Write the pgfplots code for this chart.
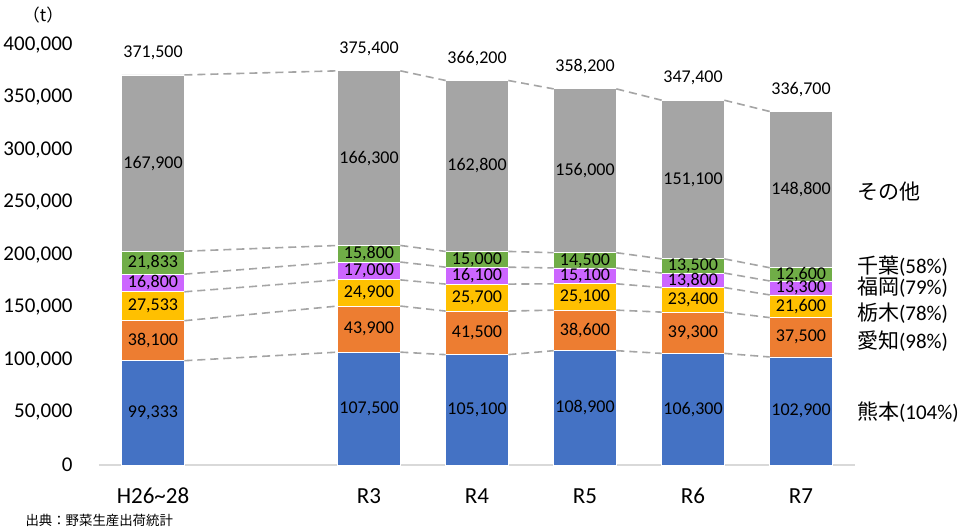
\documentclass[border=0pt]{standalone}
\usepackage{fontspec}
\setmainfont{Carlito}
\newfontfamily\cjk{Noto Sans CJK JP}
\usepackage{pgfplots}
\pgfplotsset{compat=1.18}

\definecolor{cKuma}{HTML}{4472C4}
\definecolor{cAichi}{HTML}{ED7D31}
\definecolor{cTochi}{HTML}{FFC000}
\definecolor{cFuku}{HTML}{CC66FF}
\definecolor{cChiba}{HTML}{70AD47}
\definecolor{cOther}{HTML}{A5A5A5}

\pgfplotsset{
  frame/.style={
    scale only axis, width=378pt, height=210pt,
    xmin=-0.5, xmax=6.5, ymin=0, ymax=400000,
  },
  seg/.style={draw=cOther, line width=0.8pt, dash pattern=on 4pt off 2.5pt, mark=none, forget plot},
}

\begin{document}
\begin{tikzpicture}
\useasboundingbox (-49.5pt,-30.5pt) rectangle (431pt,232.5pt);

% stacked bars
\begin{axis}[frame,
  ybar stacked, bar width=0.58,
  axis x line*=bottom, axis y line*=left,
  x axis line style={draw=black!15, line width=0.8pt},
  y axis line style={draw=none},
  major tick length=0pt,
  xtick={0,2,3,4,5,6},
  xticklabels={H26\textasciitilde28, R3, R4, R5, R6, R7},
  xticklabel style={font=\fontsize{11.5}{12}\selectfont, inner sep=0pt, anchor=center, yshift=-15.5pt},
  ytick={0,50000,...,400000},
  scaled y ticks=false,
  yticklabel style={font=\fontsize{10.5}{12}\selectfont, inner sep=0pt, anchor=east, xshift=-13pt,
    /pgf/number format/fixed, /pgf/number format/1000 sep={,},
    /pgf/number format/assume math mode=true},
  every axis plot/.append style={draw=white, line width=0.4pt},
]
\addplot[fill=cKuma]  coordinates {(0,99333) (2,107500) (3,105100) (4,108900) (5,106300) (6,102900)};
\addplot[fill=cAichi] coordinates {(0,38100) (2,43900) (3,41500) (4,38600) (5,39300) (6,37500)};
\addplot[fill=cTochi] coordinates {(0,27533) (2,24900) (3,25700) (4,25100) (5,23400) (6,21600)};
\addplot[fill=cFuku]  coordinates {(0,16800) (2,17000) (3,16100) (4,15100) (5,13800) (6,13300)};
\addplot[fill=cChiba] coordinates {(0,21833) (2,15800) (3,15000) (4,14500) (5,13500) (6,12600)};
\addplot[fill=cOther] coordinates {(0,167900) (2,166300) (3,162800) (4,156000) (5,151100) (6,148800)};
\end{axis}

% connector lines, value labels and notes
\begin{axis}[frame, hide axis, clip=false, unbounded coords=jump]
% dashed connectors between the cumulative levels of neighbouring bars
\addplot[seg] coordinates {(0.29,99333) (1.71,107500) (2,nan) (2.29,107500) (2.71,105100) (3,nan) (3.29,105100) (3.71,108900) (4,nan) (4.29,108900) (4.71,106300) (5,nan) (5.29,106300) (5.71,102900)};
\addplot[seg] coordinates {(0.29,137433) (1.71,151400) (2,nan) (2.29,151400) (2.71,146600) (3,nan) (3.29,146600) (3.71,147500) (4,nan) (4.29,147500) (4.71,145600) (5,nan) (5.29,145600) (5.71,140400)};
\addplot[seg] coordinates {(0.29,164966) (1.71,176300) (2,nan) (2.29,176300) (2.71,172300) (3,nan) (3.29,172300) (3.71,172600) (4,nan) (4.29,172600) (4.71,169000) (5,nan) (5.29,169000) (5.71,162000)};
\addplot[seg] coordinates {(0.29,181766) (1.71,193300) (2,nan) (2.29,193300) (2.71,188400) (3,nan) (3.29,188400) (3.71,187700) (4,nan) (4.29,187700) (4.71,182800) (5,nan) (5.29,182800) (5.71,175300)};
\addplot[seg] coordinates {(0.29,203599) (1.71,209100) (2,nan) (2.29,209100) (2.71,203400) (3,nan) (3.29,203400) (3.71,202200) (4,nan) (4.29,202200) (4.71,196300) (5,nan) (5.29,196300) (5.71,187900)};
\addplot[seg] coordinates {(0.29,371499) (1.71,375400) (2,nan) (2.29,375400) (2.71,366200) (3,nan) (3.29,366200) (3.71,358200) (4,nan) (4.29,358200) (4.71,347400) (5,nan) (5.29,347400) (5.71,336700)};

% segment values, centred in each block
\addplot[only marks, mark=none, nodes near coords, point meta=explicit symbolic,
  nodes near coords align=center,
  every node near coord/.append style={font=\fontsize{9}{10}\selectfont, text=black}]
coordinates {
 (0,49666.5)[99,333] (0,118383)[38,100] (0,151199.5)[27,533] (0,173366)[16,800] (0,192682.5)[21,833] (0,287549)[167,900]
 (2,53750)[107,500] (2,129450)[43,900] (2,163850)[24,900] (2,184800)[17,000] (2,201200)[15,800] (2,292250)[166,300]
 (3,52550)[105,100] (3,125850)[41,500] (3,159450)[25,700] (3,180350)[16,100] (3,195900)[15,000] (3,284800)[162,800]
 (4,54450)[108,900] (4,128200)[38,600] (4,160050)[25,100] (4,180150)[15,100] (4,194950)[14,500] (4,280200)[156,000]
 (5,53150)[106,300] (5,125950)[39,300] (5,157300)[23,400] (5,175900)[13,800] (5,189550)[13,500] (5,271850)[151,100]
 (6,51450)[102,900] (6,121650)[37,500] (6,151200)[21,600] (6,168650)[13,300] (6,181600)[12,600] (6,262300)[148,800]
};

% totals above the bars
\addplot[only marks, mark=none, nodes near coords, point meta=explicit symbolic,
  nodes near coords align=center,
  every node near coord/.append style={font=\fontsize{9}{10}\selectfont, text=black, yshift=11pt}]
coordinates {(0,371499)[371,500] (2,375400)[375,400] (3,366200)[366,200] (4,358200)[358,200] (5,347400)[347,400] (6,336700)[336,700]};

% prefecture names (share)
\begin{scope}[every node/.style={anchor=west, inner sep=0pt, font=\fontsize{10.5}{12}\selectfont}]
\node at (axis cs:6.515,260300) {\cjk その他};
\node at (axis cs:6.515,189500) {{\cjk 千葉}(58\%)};
\node at (axis cs:6.515,169800) {{\cjk 福岡}(79\%)};
\node at (axis cs:6.515,145000) {{\cjk 栃木}(78\%)};
\node at (axis cs:6.515,118400) {{\cjk 愛知}(98\%)};
\node at (axis cs:6.515,50200) {{\cjk 熊本}(104\%)};
\end{scope}

\node[font=\cjk\fontsize{8.5}{10}\selectfont, inner sep=0pt] at (axis cs:-1.017,428600) {（t）};
\node[font=\cjk\fontsize{6.7}{8}\selectfont, inner sep=0pt, anchor=west] at (axis cs:-1.184,-52400) {出典：野菜生産出荷統計};
\end{axis}
\end{tikzpicture}
\end{document}
